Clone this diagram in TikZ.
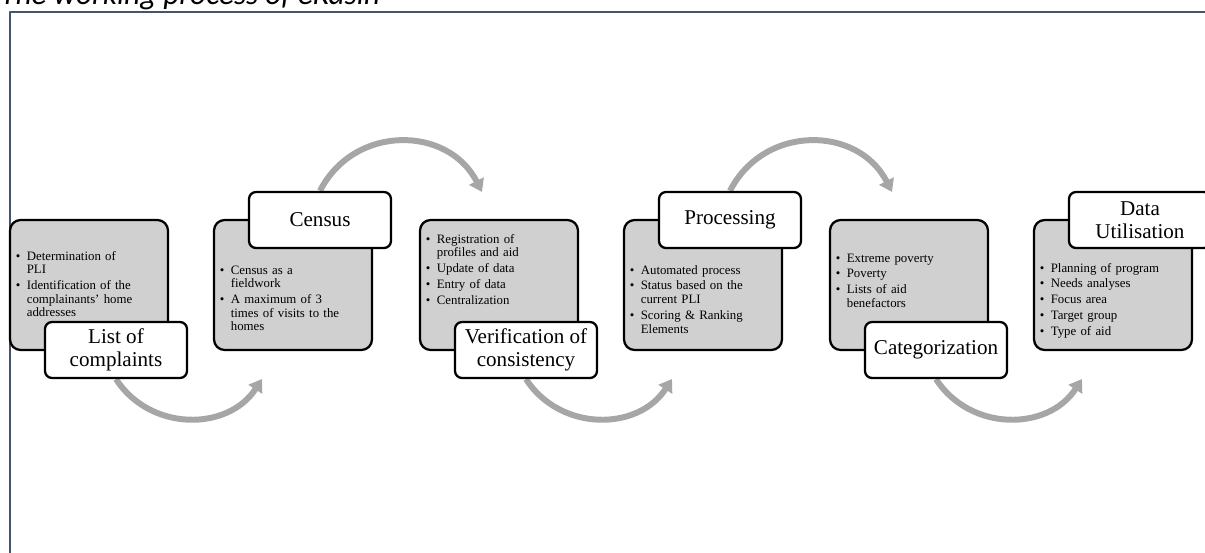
\documentclass[tikz,border=0pt]{standalone}
\usepackage{fontspec}
\setmainfont{Liberation Serif}
\newfontfamily\titlefont{Carlito}
\usetikzlibrary{arrows.meta}
\definecolor{panelgray}{RGB}{208,208,208}
\definecolor{flowgray}{RGB}{166,166,166}
\definecolor{framec}{RGB}{68,84,106}
\pgfdeclarelayer{bg}
\pgfsetlayers{bg,main}
\newcommand{\bul}{\makebox[0.22cm][l]{\textbullet}}
\newcommand{\ind}{\hspace*{0.22cm}}

\begin{document}
\begin{tikzpicture}[x=0.02cm, y=0.02cm, line join=round,
	panel/.style={draw, line width=1.3pt, fill=panelgray, rounded corners=6pt, minimum width=3.16cm, minimum height=2.6cm},
	tag/.style={draw, line width=1.3pt, fill=white, rounded corners=4pt, minimum width=2.84cm, minimum height=1.12cm, align=center, inner sep=0pt, font=\fontsize{12}{12.8}\selectfont},
	pts/.style={anchor=base west, inner sep=0pt, text width=3cm, align=left, font=\fontsize{7.3}{7.8}\selectfont},
	flow/.style={line width=3.4pt, draw=flowgray, -{Triangle[length=7pt,width=9pt]}}]
	\useasboundingbox (0,0) rectangle (1205,-552);
	\clip (0,0) rectangle (1205,-552);
	%	\draw[color=gray!50,dashed] (0,-552) grid[step=50] (1205,0);
	\node[anchor=base west, inner sep=0pt, font=\titlefont\itshape\fontsize{17.8}{20}\selectfont] (title) at (0,-4.5) {The working process of eKasih};
	\draw[framec, line width=1.2pt] (10,-560) -- (10,-12) -- (1215,-12);
	\foreach \i/\x in {1/89,2/293,3/499,4/703,5/909,6/1113}
		\node[panel] (p\i) at (\x,-285) {};
	\node[tag] (t1) at (116,-350) {List of\\complaints};
	\node[tag] (t2) at (320,-220) {Census};
	\node[tag] (t3) at (526,-350) {Verification of\\consistency};
	\node[tag] (t4) at (730,-220) {Processing};
	\node[tag] (t5) at (936,-350) {Categorization};
	\node[tag] (t6) at (1140,-220) {Data\\Utilisation};
	\node[pts] (b1) at (15.5,-260) {\bul Determination of\\ \ind PLI\\[1.2pt] \bul Identification of the\\ \ind complainants' home\\ \ind addresses};
	\node[pts] (b2) at (219.5,-274) {\bul Census as a\\ \ind fieldwork\\[1.2pt] \bul A maximum of 3\\ \ind times of visits to the\\ \ind homes};
	\node[pts] (b3) at (425.5,-243) {\bul Registration of\\ \ind profiles and aid\\[1.2pt] \bul Update of data\\[1.2pt] \bul Entry of data\\[1.2pt] \bul Centralization};
	\node[pts] (b4) at (629.5,-274) {\bul Automated process\\[1.2pt] \bul Status based on the\\ \ind current PLI\\[1.2pt] \bul Scoring \& Ranking\\ \ind Elements};
	\node[pts] (b5) at (835.5,-262) {\bul Extreme poverty\\[1.2pt] \bul Poverty\\[1.2pt] \bul Lists of aid\\ \ind benefactors};
	\node[pts] (b6) at (1039.5,-272) {\bul Planning of program\\[1.2pt] \bul Needs analyses\\[1.2pt] \bul Focus area\\[1.2pt] \bul Target group\\[1.2pt] \bul Type of aid};
	\coordinate (a1) at (262,-379);
	\coordinate (a2) at (482,-192);
	\coordinate (a3) at (672,-379);
	\coordinate (a4) at (892,-192);
	\coordinate (a5) at (1082,-379);
	\begin{pgfonlayer}{bg}
		\draw[flow] (t1.south) to[out=-57,in=-123,looseness=1.1] (a1);
		\draw[flow] (t2.north) to[out=63,in=117,looseness=1.18] (a2);
		\draw[flow] (t3.south) to[out=-57,in=-123,looseness=1.1] (a3);
		\draw[flow] (t4.north) to[out=63,in=117,looseness=1.18] (a4);
		\draw[flow] (t5.south) to[out=-57,in=-123,looseness=1.1] (a5);
	\end{pgfonlayer}
\end{tikzpicture}
\end{document}
